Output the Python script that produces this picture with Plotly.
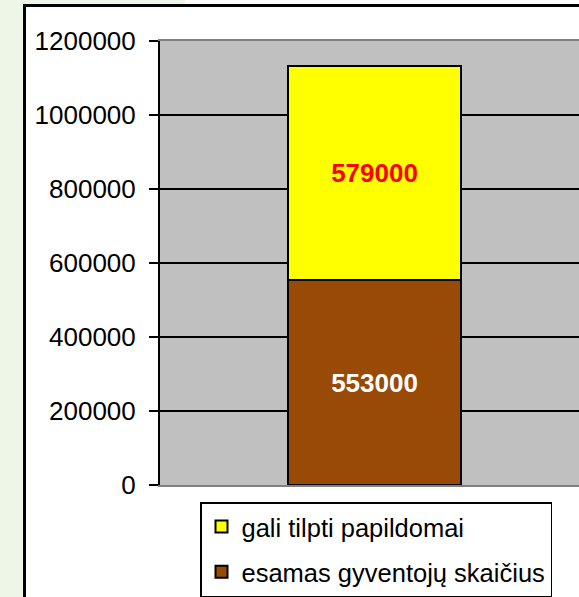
import plotly.graph_objects as go

# data
categories = ["2008"]
series_names = ["esamas gyventojų skaičius", "gali tilpti papildomai"]
existing = [553000]
extra = [579000]
y_ticks = [0, 200000, 400000, 600000, 800000, 1000000, 1200000]

W, H = 579, 597
L, R, T, B = 160, 0, 41, 112
pw, ph = W - L - R, H - T - B


def px(x):
    return (x - L) / pw


def py(y):
    return (H - B - y) / ph


FONT = "Arial, Liberation Sans, sans-serif"

fig = go.Figure()
fig.add_trace(go.Bar(
    x=categories, y=existing, name=series_names[0],
    marker=dict(color="#994a06", line=dict(color="black", width=2)),
    text=[f"{v}" for v in existing], textposition="inside",
    insidetextanchor="middle", textangle=0,
    textfont=dict(color="white", size=26, family=FONT, weight="bold"),
    legendgroup="a", legendrank=2,
))
fig.add_trace(go.Bar(
    x=categories, y=extra, name=series_names[1],
    marker=dict(color="#ffff00", line=dict(color="black", width=2)),
    text=[f"{v}" for v in extra], textposition="inside",
    insidetextanchor="middle", textangle=0,
    textfont=dict(color="#ff0000", size=26, family=FONT, weight="bold"),
    legendgroup="b", legendrank=1,
))

# left decorative strip + frame (outside the plot area)
shapes = [
    dict(type="rect", xref="paper", yref="paper", x0=px(-5), x1=px(23), y0=py(-5), y1=py(H + 5),
         fillcolor="#eef6e7", line=dict(width=0), layer="below"),
    dict(type="rect", xref="paper", yref="paper", x0=px(-5), x1=px(185), y0=py(-5), y1=py(4),
         fillcolor="#eef6e7", line=dict(width=0), layer="below"),
    dict(type="line", xref="paper", yref="paper", x0=px(24.5), x1=px(24.5), y0=py(4), y1=py(H + 10),
         line=dict(color="black", width=3), layer="above"),
    dict(type="line", xref="paper", yref="paper", x0=px(23), x1=px(W + 10), y0=py(5.5), y1=py(5.5),
         line=dict(color="black", width=3), layer="above"),
]

fig.update_layout(
    width=W, height=H,
    margin=dict(l=L, r=R, t=T, b=B),
    paper_bgcolor="white", plot_bgcolor="#c0c0c0",
    barmode="stack", bargap=0.597,
    font=dict(family=FONT, size=25, color="black"),
    shapes=shapes,
    showlegend=True,
    legend=dict(
        x=px(200), y=py(502), xanchor="left", yanchor="top",
        bgcolor="white", bordercolor="black", borderwidth=1.5,
        font=dict(size=25.5, family=FONT), traceorder="grouped",
        tracegroupgap=9,
    ),
    xaxis=dict(range=[-0.5, 0.4767], showticklabels=False, showgrid=False,
               showline=True, linecolor="#808080", linewidth=2, mirror=True, ticks=""),
    yaxis=dict(range=[0, 1200000], tickvals=y_ticks, tickformat="d",
               showgrid=True, gridcolor="black", gridwidth=1.5,
               showline=True, linecolor="black", linewidth=2,
               ticks="outside", ticklen=9, tickwidth=2, tickcolor="black",
               ticklabelstandoff=8, zeroline=False,
               tickfont=dict(size=26, family=FONT)),
)

fig.write_html("out.html", config={"displayModeBar": False},
               post_script="document.body.style.margin='0';")
